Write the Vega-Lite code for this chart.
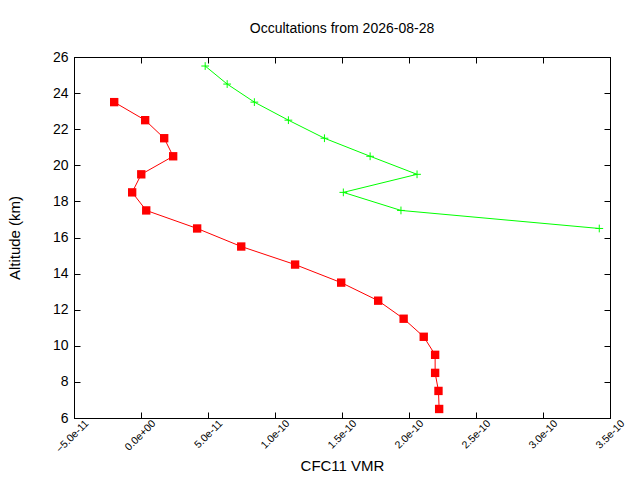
{
  "$schema": "https://vega.github.io/schema/vega-lite/v6.json",
  "width": 536,
  "height": 361,
  "autosize": {"type": "none"},
  "padding": {"left": 74, "top": 57, "right": 30, "bottom": 62},
  "title": {
    "text": "Occultations from 2026-08-28",
    "font": "Liberation Sans",
    "fontSize": 14,
    "fontWeight": "normal",
    "color": "black",
    "offset": 14
  },
  "config": {
    "view": {"stroke": "black", "strokeWidth": 1},
    "axis": {
      "grid": false,
      "domainColor": "black",
      "tickColor": "black",
      "tickSize": -6,
      "labelColor": "black",
      "titleColor": "black",
      "labelFont": "Liberation Sans",
      "titleFont": "Liberation Sans",
      "titleFontWeight": "normal",
      "titleFontSize": 15
    }
  },
  "data": {
    "values": [
      {"series": "red", "i": 0, "vmr": -2.0e-11, "alt": 23.5},
      {"series": "red", "i": 1, "vmr": 3.1e-12, "alt": 22.5},
      {"series": "red", "i": 2, "vmr": 17.3e-12, "alt": 21.5},
      {"series": "red", "i": 3, "vmr": 24.0e-12, "alt": 20.5},
      {"series": "red", "i": 4, "vmr": 0.2e-12, "alt": 19.5},
      {"series": "red", "i": 5, "vmr": -6.6e-12, "alt": 18.5},
      {"series": "red", "i": 6, "vmr": 3.9e-12, "alt": 17.5},
      {"series": "red", "i": 7, "vmr": 41.9e-12, "alt": 16.5},
      {"series": "red", "i": 8, "vmr": 74.8e-12, "alt": 15.5},
      {"series": "red", "i": 9, "vmr": 115e-12, "alt": 14.5},
      {"series": "red", "i": 10, "vmr": 149.4e-12, "alt": 13.5},
      {"series": "red", "i": 11, "vmr": 177e-12, "alt": 12.5},
      {"series": "red", "i": 12, "vmr": 196e-12, "alt": 11.5},
      {"series": "red", "i": 13, "vmr": 211e-12, "alt": 10.5},
      {"series": "red", "i": 14, "vmr": 219.5e-12, "alt": 9.5},
      {"series": "red", "i": 15, "vmr": 219.5e-12, "alt": 8.5},
      {"series": "red", "i": 16, "vmr": 222e-12, "alt": 7.5},
      {"series": "red", "i": 17, "vmr": 222.5e-12, "alt": 6.5},
      {"series": "green", "i": 0, "vmr": 47.9e-12, "alt": 25.5},
      {"series": "green", "i": 1, "vmr": 64.3e-12, "alt": 24.5},
      {"series": "green", "i": 2, "vmr": 84.6e-12, "alt": 23.5},
      {"series": "green", "i": 3, "vmr": 110e-12, "alt": 22.5},
      {"series": "green", "i": 4, "vmr": 136.9e-12, "alt": 21.5},
      {"series": "green", "i": 5, "vmr": 171e-12, "alt": 20.5},
      {"series": "green", "i": 6, "vmr": 206e-12, "alt": 19.5},
      {"series": "green", "i": 7, "vmr": 151e-12, "alt": 18.5},
      {"series": "green", "i": 8, "vmr": 194e-12, "alt": 17.5},
      {"series": "green", "i": 9, "vmr": 342e-12, "alt": 16.5}
    ]
  },
  "layer": [
    {
      "mark": {"type": "line", "strokeWidth": 1},
      "encoding": {
        "x": {
          "field": "vmr",
          "type": "quantitative",
          "scale": {"domain": [-5e-11, 3.5e-10], "nice": false, "zero": false},
          "axis": {
            "title": "CFC11 VMR",
            "values": [-5e-11, 0, 5e-11, 1e-10, 1.5e-10, 2e-10, 2.5e-10, 3e-10, 3.5e-10],
            "labelExpr": "datum.value == 0 ? '0.0e+00' : format(datum.value, '.1e')",
            "labelAngle": -45,
            "labelAlign": "right",
            "labelBaseline": "top",
            "labelFontSize": 10.5,
            "labelPadding": 6,
            "labelOffset": 9,
            "titlePadding": 4
          }
        },
        "y": {
          "field": "alt",
          "type": "quantitative",
          "scale": {"domain": [6, 26], "nice": false, "zero": false},
          "axis": {
            "title": "Altitude (km)",
            "values": [6, 8, 10, 12, 14, 16, 18, 20, 22, 24, 26],
            "labelFontSize": 14,
            "labelPadding": 12,
            "titlePadding": 30
          }
        },
        "color": {
          "field": "series",
          "type": "nominal",
          "scale": {"domain": ["red", "green"], "range": ["#ff0000", "#00ff00"]},
          "legend": null
        },
        "order": {"field": "i", "type": "quantitative"}
      }
    },
    {
      "transform": [{"filter": "datum.series == 'red'"}],
      "mark": {"type": "point", "shape": "square", "filled": true, "opacity": 1, "color": "#ff0000", "size": 70},
      "encoding": {
        "x": {"field": "vmr", "type": "quantitative", "axis": null},
        "y": {"field": "alt", "type": "quantitative", "axis": null}
      }
    },
    {
      "transform": [{"filter": "datum.series == 'green'"}],
      "mark": {"type": "point", "shape": "M-1,0L1,0M0,-1L0,1", "filled": false, "opacity": 1, "color": "#00ff00", "strokeWidth": 1, "size": 60},
      "encoding": {
        "x": {"field": "vmr", "type": "quantitative", "axis": null},
        "y": {"field": "alt", "type": "quantitative", "axis": null}
      }
    },
    {
      "mark": {"type": "point", "opacity": 0},
      "encoding": {
        "x": {
          "field": "vmr",
          "type": "quantitative",
          "axis": {"orient": "top", "title": null, "labels": false, "values": [-5e-11, 0, 5e-11, 1e-10, 1.5e-10, 2e-10, 2.5e-10, 3e-10, 3.5e-10]}
        },
        "y": {
          "field": "alt",
          "type": "quantitative",
          "axis": {"orient": "right", "title": null, "labels": false, "values": [6, 8, 10, 12, 14, 16, 18, 20, 22, 24, 26]}
        }
      }
    }
  ],
  "resolve": {"axis": {"x": "independent", "y": "independent"}}
}
